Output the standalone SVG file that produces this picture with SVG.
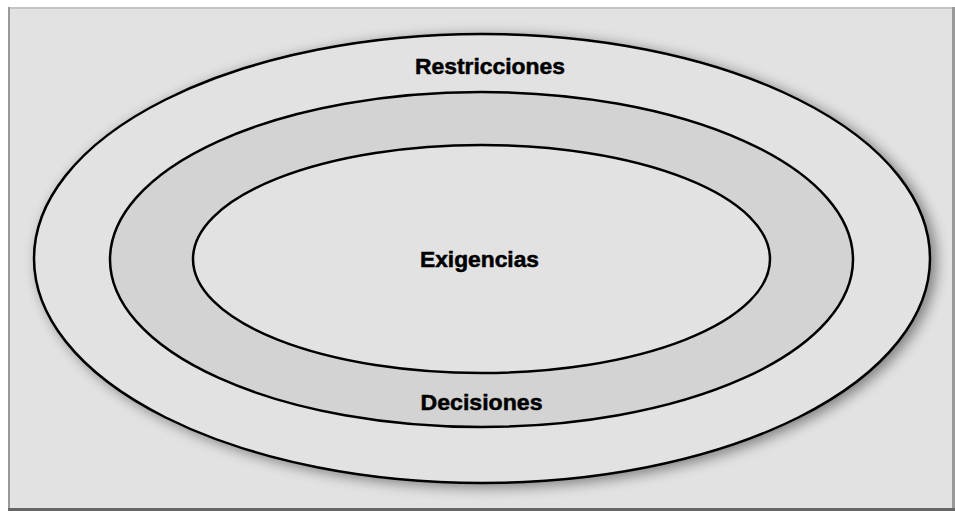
<svg xmlns="http://www.w3.org/2000/svg" width="955" height="511" viewBox="0 0 955 511">
  <style>
    .ring { stroke: #000; stroke-width: 2.5; }
    .lbl { font-family: "Liberation Sans", Arial, sans-serif; font-weight: bold; font-size: 21.5px; fill: #000; stroke: #000; stroke-width: 0.5; text-anchor: middle; }
  </style>
  <defs>
    <filter id="shadow" x="-10%" y="-10%" width="120%" height="125%">
      <feGaussianBlur in="SourceAlpha" stdDeviation="7"/>
      <feOffset dx="5" dy="3" result="b"/>
      <feComponentTransfer><feFuncA type="linear" slope="0.45"/></feComponentTransfer>
      <feMerge><feMergeNode/><feMergeNode in="SourceGraphic"/></feMerge>
    </filter>
  </defs>
  <rect x="0" y="0" width="955" height="511" fill="#ffffff"/>
  <g id="frame">
    <rect x="9" y="8" width="944" height="502" fill="#e2e2e2"/>
    <rect x="8" y="7" width="945" height="2" fill="#c4c4c4"/>
    <rect x="8" y="7" width="2" height="504" fill="#999999"/>
    <rect x="952" y="7" width="3" height="504" fill="#999999"/>
    <rect x="8" y="508" width="947" height="3" fill="#666666"/>
  </g>
  <g id="restricciones">
    <ellipse class="ring" cx="482" cy="258.5" rx="448" ry="224.5" fill="#e2e2e2" filter="url(#shadow)"/>
    <text class="lbl" x="490" y="74" textLength="150" lengthAdjust="spacingAndGlyphs">Restricciones</text>
  </g>
  <g id="decisiones">
    <ellipse class="ring" cx="481.5" cy="259.5" rx="371.5" ry="167.5" fill="#d3d3d3"/>
    <text class="lbl" x="481.5" y="410" textLength="122" lengthAdjust="spacingAndGlyphs">Decisiones</text>
  </g>
  <g id="exigencias">
    <ellipse class="ring" cx="481.5" cy="259" rx="288.5" ry="114" fill="#e2e2e2"/>
    <text class="lbl" x="479.5" y="267" textLength="119" lengthAdjust="spacingAndGlyphs">Exigencias</text>
  </g>
  <g id="connectors"/>
</svg>
